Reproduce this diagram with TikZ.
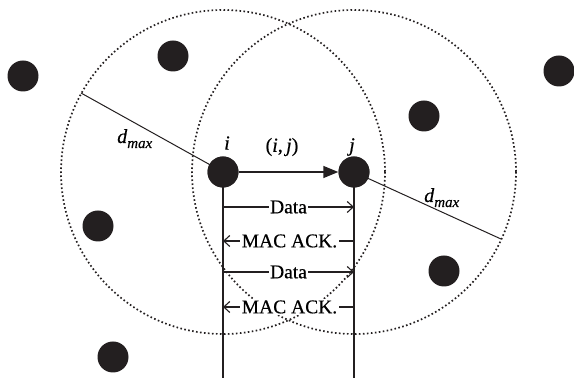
\documentclass[tikz,border=0pt]{standalone}
\usepackage{fontspec}
\setmainfont[FakeBold=0.5]{Liberation Serif}
\usetikzlibrary{arrows.meta}
\definecolor{ink}{RGB}{35,31,32}
\newcommand{\dmaxlabel}{\textit{d}\raisebox{-5pt}{\fontsize{15}{16}\selectfont\textit{max}}}
\begin{document}
\begin{tikzpicture}[x=1pt,y=-1pt,
  dot/.style={circle,fill=ink,draw=none,minimum size=31pt,inner sep=0pt},
  rangecirc/.style={draw=ink,line width=1.7pt,dash pattern=on 1.6pt off 2.4pt},
  lifeline/.style={draw=ink,line width=1.4pt},
  msgarrow/.style={draw=ink,line width=1.1pt,-{Straight Barb[length=6pt,width=11pt,line width=1.1pt]}},
  msglab/.style={fill=white,inner sep=1.5pt,font=\fontsize{19.5}{21}\selectfont},
  lab/.style={inner sep=0pt,font=\fontsize{20}{22}\selectfont},
  radline/.style={draw=ink,line width=1pt}]
\useasboundingbox (0,0) rectangle (574,379);
% range circles
\draw[rangecirc] (223,172) circle[radius=162];
\draw[rangecirc] (354,172) circle[radius=162];
% lifelines
\coordinate (ib) at (223,378);
\coordinate (jb) at (354,378);
\coordinate (ri) at (81,93);
\coordinate (rj) at (501,239);
\node[dot] (i) at (223,172) {};
\node[dot] (j) at (354,172) {};
\draw[lifeline] (i.center) -- (ib);
\draw[lifeline] (j.center) -- (jb);
\draw[radline] (i.center) -- (ri);
\draw[radline] (j.center) -- (rj);
\node[dot] (i) at (223,172) {};
\node[dot] (j) at (354,172) {};
% other nodes
\node[dot] (n1) at (23,76) {};
\node[dot] (n2) at (173,56) {};
\node[dot] (n3) at (559,71) {};
\node[dot] (n4) at (424,116) {};
\node[dot] (n5) at (98,226) {};
\node[dot] (n6) at (444,271) {};
\node[dot] (n7) at (113,357) {};
% link arrow
\draw[draw=ink,line width=1.4pt,-{Triangle[length=15pt,width=12pt]}] (i) -- (j);
% labels
\node[lab] (li) at (227,143) {\textit{i}};
\node[lab] (lj) at (352,147) {\textit{j}};
\node[lab] (lij) at (282,147) {(\textit{i},\,\textit{j})};
\node[lab,anchor=base west] (dl) at (117,143) {\dmaxlabel};
\node[lab,anchor=base west] (dr) at (424,202) {\dmaxlabel};
% messages
\coordinate (a1) at (223,207); \coordinate (b1) at (354,207);
\coordinate (a2) at (223,241); \coordinate (b2) at (354,241);
\coordinate (a3) at (223,272); \coordinate (b3) at (354,272);
\coordinate (a4) at (223,307); \coordinate (b4) at (354,307);
\draw[msgarrow] (a1) -- node[msglab] (m1) {Data} (b1);
\draw[msgarrow] (b2) -- node[msglab,xshift=1pt] (m2) {MAC ACK.} (a2);
\draw[msgarrow] (a3) -- node[msglab] (m3) {Data} (b3);
\draw[msgarrow] (b4) -- node[msglab,xshift=1pt] (m4) {MAC ACK.} (a4);
\end{tikzpicture}
\end{document}
